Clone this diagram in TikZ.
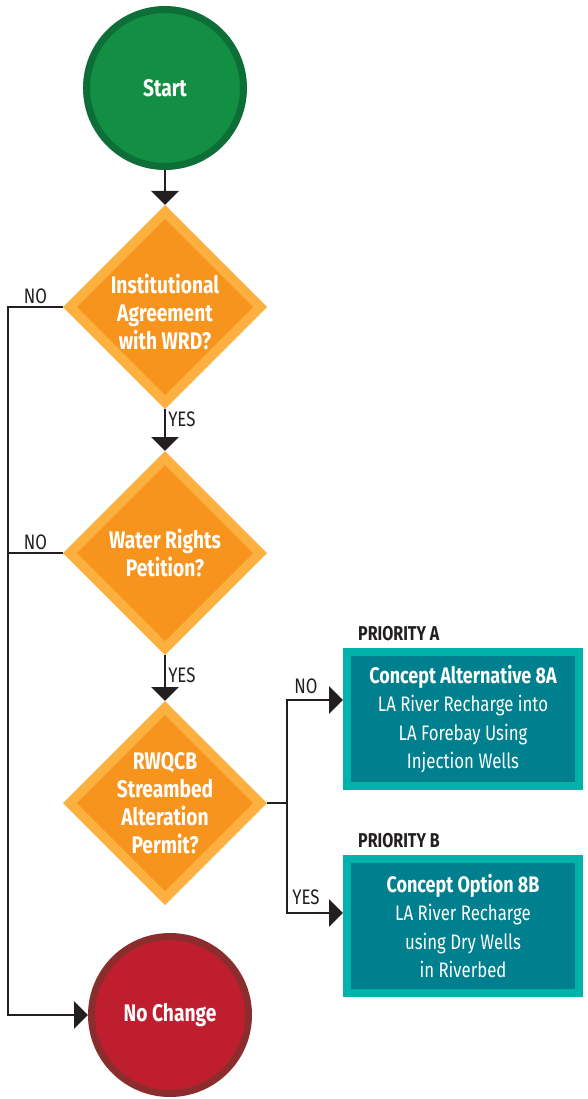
\documentclass[tikz,border=0pt]{standalone}
\usepackage{fontspec}
\setmainfont{Fira Sans}[FakeStretch=0.8]
\usetikzlibrary{shapes.geometric,arrows.meta,positioning}

\definecolor{startgreen}{HTML}{128F43}
\definecolor{startborder}{HTML}{0E6E38}
\definecolor{stopred}{HTML}{BE1E2D}
\definecolor{stopborder}{HTML}{8C2D2D}
\definecolor{lightorange}{HTML}{FBB040}
\definecolor{darkorange}{HTML}{F7941E}
\definecolor{tealborder}{HTML}{00B2A9}
\definecolor{tealfill}{HTML}{00808E}
\definecolor{arrowgray}{HTML}{231F20}

\tikzset{
  terminal/.style={circle, line width=7pt, minimum size=157pt, outer sep=3.5pt,
    text=white, font=\bfseries\fontsize{24}{28}\selectfont},
  decision/.style={diamond, fill=lightorange, minimum width=204pt, minimum height=204pt,
    inner sep=0pt, outer sep=0pt,
    path picture={\fill[darkorange] ([xshift=-88pt]path picture bounding box.center)
      -- ++(88pt,88pt) -- ++(88pt,-88pt) -- ++(-88pt,-88pt) -- cycle;}},
  dtext/.style={text=white, align=center, font=\bfseries\fontsize{24}{28}\selectfont},
  concept/.style={draw=tealborder, fill=tealfill, line width=8pt, minimum width=232pt,
    minimum height=134pt, outer sep=4pt, text=white, align=center,
    font=\fontsize{21}{28.5}\selectfont},
  priority/.style={text=arrowgray, inner sep=0pt, font=\bfseries\fontsize{20}{22}\selectfont},
  answer/.style={text=arrowgray, inner sep=2pt, font=\fontsize{21}{24}\selectfont},
  wire/.style={draw=arrowgray, line width=2.5pt},
  flow/.style={wire, -{Triangle[width=27pt,length=14pt]}},
}

\begin{document}
\begin{tikzpicture}[x=1pt,y=-1pt]
  \useasboundingbox (0,0) rectangle (588,1099);
  \node[terminal, draw=startborder, fill=startgreen] (start) at (165,88) {Start};
  \node[decision, label={[dtext, yshift=-5pt]center:Institutional\\Agreement\\with WRD?}] (agree) at (165,307) {};
  \node[decision, label={[dtext]center:Water Rights\\Petition?}] (rights) at (165,553) {};
  \node[decision, label={[dtext]center:RWQCB\\Streambed\\Alteration\\Permit?}] (permit) at (165,803) {};
  \node[terminal, draw=stopborder, fill=stopred] (nochange) at (170,1015) {No Change};
  \node[concept] (alta) at (463,719) {{\bfseries\fontsize{22.5}{28.5}\selectfont Concept Alternative 8A}\\LA River Recharge into\\LA Forebay Using\\Injection Wells};
  \node[concept] (optb) at (463,926) {{\bfseries\fontsize{22.5}{28.5}\selectfont Concept Option 8B}\\LA River Recharge\\using Dry Wells\\in Riverbed};
  \node[priority, anchor=south west] (prioa) at ([xshift=15pt,yshift=7pt]alta.north west) {PRIORITY A};
  \node[priority, anchor=south west] (priob) at ([xshift=15pt,yshift=7pt]optb.north west) {PRIORITY B};
  \coordinate (rail) at (8,0);
  \coordinate (fork) at (287,803);
  % main line
  \draw[flow] (start) -- (agree);
  \draw[flow] (agree) -- node[answer, right, pos=0.25] {YES} (rights);
  \draw[flow] (rights) -- node[answer, right, pos=0.45] {YES} (permit);
  % no branches
  \draw[flow] (agree.west) -- node[answer, above] {NO} (agree.west -| rail) |- (nochange);
  \draw[wire] (rights.west) -- node[answer, above] {NO} (rights.west -| rail);
  % priorities
  \draw[wire] (permit.east) -- (fork);
  \draw[flow] (fork) |- node[answer, above, pos=0.67, yshift=3pt] {NO} ([yshift=19pt]alta.west);
  \draw[flow] (fork) |- node[answer, above, pos=0.67, yshift=5pt] {YES} ([yshift=13pt]optb.west);
\end{tikzpicture}
\end{document}
